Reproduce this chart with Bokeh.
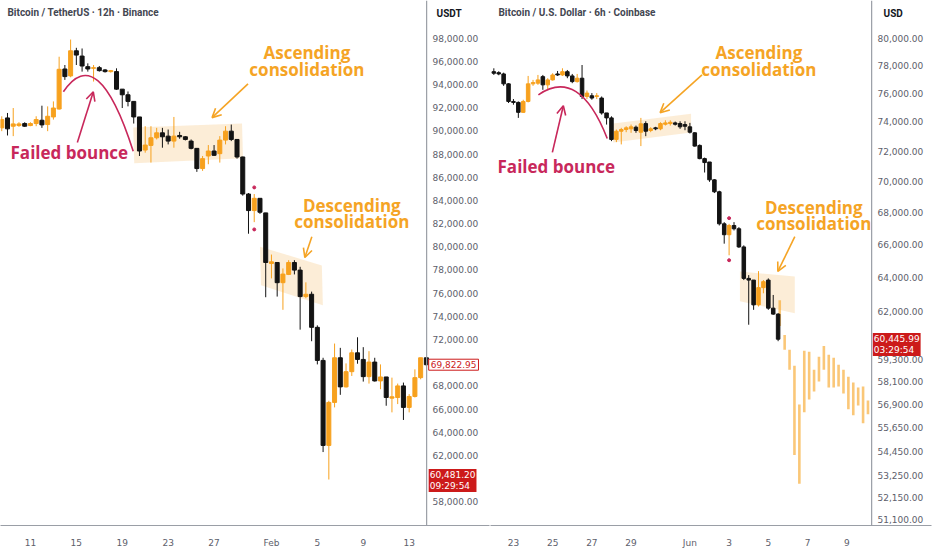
import numpy as np
import pandas as pd
from bokeh.plotting import figure
from bokeh.models import Range1d, FixedTicker, Label, Arrow, OpenHead, NumeralTickFormatter, ColumnDataSource, Span
from bokeh.layouts import row
from bokeh.embed import file_html
from bokeh.resources import INLINE

# ---------------- data: left chart (BTC/USDT, 12h, Binance) ----------------
L_FIRST = "2026-01-08 12:00"
L_ORIGIN = "2026-01-11"
L_OPEN = [90263, 91120, 90406, 90463, 90635, 90463, 90635, 90920, 90549, 91206,
          91891, 95345, 94746, 96915, 96459, 95545, 95402, 95459, 95260, 95117,
          95117, 93604, 93118, 92547, 91206, 88350, 88750, 89407, 89835, 89549,
          89121, 89606, 89493, 89121, 88493, 86752, 87836, 88265, 88036, 89207,
          89978, 89264, 87751, 84553, 83126, 84182, 82926, 78558, 78644, 76902,
          77616, 78644, 77987, 75703, 75903, 73048, 70193, 62855, 66567, 70421,
          67909, 69222, 70849, 70278, 68794, 70050, 68423, 68765, 66938, 66995,
          67994, 66139, 67081, 68708, 70421]
L_HIGH = [91263, 91548, 91976, 90749, 90749, 90749, 91263, 92176, 92119, 92547,
          96402, 95688, 97886, 97172, 97115, 95831, 95688, 95602, 95345, 95260,
          95402, 93604, 93404, 92547, 91206, 90406, 90406, 90263, 90263, 90120,
          91206, 89920, 89549, 89264, 88493, 87836, 88779, 88779, 89549, 90406,
          90549, 89264, 87779, 84639, 84553, 84182, 82926, 79329, 78644, 78130,
          78844, 78844, 78272, 76930, 76131, 73219, 70421, 66710, 71649, 71277,
          69936, 71135, 72191, 71335, 70992, 70421, 69850, 68765, 68708, 68194,
          68280, 67281, 69422, 70421, 70421]
L_LOW = [89978, 89606, 89549, 90349, 90349, 90406, 90406, 90263, 89978, 90977,
         91834, 94403, 94632, 95688, 95117, 95117, 94260, 95117, 95031, 95031,
         93547, 91976, 92119, 90635, 87836, 88122, 87266, 89264, 88550, 88836,
         88550, 89321, 89178, 88408, 86466, 86552, 87123, 87836, 87266, 88836,
         89121, 87608, 84411, 81127, 82127, 82840, 75646, 77273, 75703, 74561,
         77559, 77616, 72848, 75560, 71849, 69850, 62284, 59915, 66139, 67223,
         67852, 68851, 69907, 68366, 68194, 68366, 67709, 66281, 65710, 66424,
         65054, 65710, 66995, 68565, 69700]
L_CLOSE = [90977, 90178, 90606, 90606, 90406, 90635, 90977, 90520, 91263, 91976,
           95317, 94689, 96915, 96544, 95602, 95345, 95459, 95202, 95117, 95202,
           93604, 93118, 92547, 91206, 88265, 88779, 89407, 89835, 89493, 89121,
           89549, 89493, 89264, 88493, 86752, 87608, 88265, 87894, 89207, 89978,
           89264, 87751, 84553, 83126, 84182, 82983, 78644, 78701, 76902, 77644,
           78644, 77987, 75703, 75903, 73048, 70193, 62855, 66567, 70421, 67909,
           69222, 70849, 70278, 68794, 70050, 68423, 68765, 66995, 67052, 67994,
           66139, 67081, 68708, 70421, 69822.95]
L_TICK_DATES = ["2026-01-11", "2026-01-15", "2026-01-19", "2026-01-23", "2026-01-27",
                "2026-02-01", "2026-02-05", "2026-02-09", "2026-02-13"]
L_TICK_LABELS = ["11", "15", "19", "23", "27", "Feb", "5", "9", "13"]
L_PRICE_TICKS = [98000, 96000, 94000, 92000, 90000, 88000, 86000, 84000, 82000, 80000,
                 78000, 76000, 74000, 72000, 68000, 66000, 64000, 62000, 58000]
L_LAST = 69822.95
L_MARK = 60481.20
L_TIMER = "09:29:54"
L_DOT_DATE = "2026-01-30 12:00"
L_DOTS = [85124, 81498]

# ---------------- data: right chart (BTC/USD, 6h, Coinbase) ----------------
R_FIRST = "2026-05-22 00:00"
R_ORIGIN = "2026-05-23"
R_OPEN = [77546, 77475, 77382, 76671, 75426, 75357, 74663, 75426, 76671, 76720,
          77189, 76599, 76954, 77382, 77310, 77546, 77239, 76833, 77075, 75776,
          75825, 75776, 75664, 74622, 74279, 72803, 73364, 73479, 73527, 73636,
          73296, 73888, 73411, 73594, 73527, 73840, 73888, 73935, 73888, 73819,
          73663, 73255, 72400, 71516, 71291, 70115, 69341, 67302, 66622, 67197,
          66992, 65869, 63967, 63867, 62408, 63419, 63867, 62218, 61874]
R_HIGH = [77791, 77575, 77475, 76720, 75594, 75426, 75545, 77239, 76954, 77310,
          77310, 77075, 77432, 77597, 77791, 77669, 77382, 77382, 78029, 76197,
          76014, 76014, 75776, 74622, 74388, 73479, 73594, 73703, 73819, 73751,
          74279, 74045, 73636, 73663, 73977, 74114, 74114, 74025, 74045, 74045,
          73935, 73296, 72467, 71583, 71291, 70160, 69406, 67408, 67302, 67408,
          67095, 65967, 64162, 63867, 64400, 63867, 63967, 62988, 61931]
R_LOW = [77310, 77289, 76529, 75315, 75197, 74279, 74622, 75357, 76529, 76599,
         76246, 76246, 76905, 77239, 77239, 77075, 76720, 76762, 75594, 75594,
         75545, 75594, 74505, 73819, 72689, 72621, 72467, 73296, 73255, 73255,
         72354, 73025, 73296, 73432, 73432, 73751, 73751, 73751, 73527, 73432,
         73208, 72313, 71470, 70596, 69986, 69258, 67197, 66070, 65359, 66887,
         65808, 63867, 61266, 62121, 62316, 63087, 62121, 61834, 60333]
R_CLOSE = [77432, 77382, 76671, 75426, 75357, 74663, 75426, 76671, 76762, 76954,
           76599, 76954, 77310, 77310, 77546, 77239, 76833, 77075, 75776, 76014,
           75664, 75825, 74622, 74279, 72803, 73364, 73479, 73594, 73663, 73411,
           73868, 73364, 73527, 73527, 73888, 73935, 73977, 73840, 73663, 73703,
           73296, 72354, 71516, 71252, 70115, 69341, 67302, 66622, 67197, 66992,
           65869, 63967, 63867, 62408, 63419, 63772, 62218, 61874, 60445.99]
R_GHOST_FIRST = "2026-06-05 14:00"
R_GHOST_HIGH = [62679, 60683, 59848, 58969, 56884, 59793, 59738, 58752, 59462, 60069,
                59573, 59407, 59024, 58752, 58375, 58053, 57786, 57839, 57095]
R_GHOST_LOW = [61190, 59848, 58752, 54265, 52830, 56465, 57148, 57572, 58106, 58752,
               57786, 57786, 57839, 57466, 56622, 56309, 56832, 55894, 56361]
R_TICK_DATES = ["2026-05-23", "2026-05-25", "2026-05-27", "2026-05-29", "2026-06-01",
                "2026-06-03", "2026-06-05", "2026-06-07", "2026-06-09"]
R_TICK_LABELS = ["23", "25", "27", "29", "Jun", "3", "5", "7", "9"]
R_PRICE_TICKS = [80000, 78000, 76000, 74000, 72000, 70000, 68000, 66000, 64000, 62000,
                 59300, 58100, 56900, 55650, 54450, 53250, 52150, 51100]
R_MARK = 60445.99
R_TIMER = "03:29:54"
R_DOT_DATE = "2026-06-03"
R_DOTS = [67658, 65058]

# ---------------- style ----------------
ORANGE = "#F7A11E"
BLACK = "#131313"
TXT_ORANGE = "#F5A425"
CRIMSON = "#C8285B"
BOX = "#F8D7A6"
RED = "#CC1A1A"
AXIS = "#9a9ea6"
LBL = "#5d606b"
ANN_FONT = "Open Sans"
NUM_FONT = "DejaVu Sans"


def days(ts, origin):
    return ((pd.DatetimeIndex(ts) - pd.Timestamp(origin)) / pd.Timedelta(days=1)).to_numpy()


def draw_candles(p, x, o, h, l, c, width):
    o, h, l, c = map(np.asarray, (o, h, l, c))
    col = np.where(c >= o, ORANGE, BLACK)
    src = ColumnDataSource(dict(x=x, h=h, l=l, top=np.maximum(o, c), bot=np.minimum(o, c), col=col))
    p.segment(x0="x", y0="h", x1="x", y1="l", line_color="col", line_width=1, source=src)
    p.vbar(x="x", width=width, top="top", bottom="bot", fill_color="col", line_color="col",
           line_width=1, source=src)


def style_axes(p, xticks, xlabels, yticks, standoff, price_edge):
    p.grid.visible = False
    p.outline_line_color = None
    p.background_fill_color = "white"
    p.border_fill_color = "white"
    xa, ya = p.xaxis[0], p.yaxis[0]
    for ax in (xa, ya):
        ax.axis_line_color = AXIS
        ax.axis_line_width = 1.2
        ax.major_tick_line_color = None
        ax.minor_tick_line_color = None
        ax.major_label_text_font = NUM_FONT
        ax.major_label_text_font_size = "9px"
        ax.major_label_text_color = LBL
    ya.axis_line_color = None
    xa.ticker = FixedTicker(ticks=list(xticks), minor_ticks=[])
    xa.major_label_overrides = {int(t): s for t, s in zip(xticks, xlabels)}
    xa.major_label_standoff = 6
    ya.ticker = FixedTicker(ticks=yticks, minor_ticks=[])
    ya.formatter = NumeralTickFormatter(format="0,0.00")
    ya.major_label_standoff = standoff
    # price-scale separator line
    p.add_layout(Span(location=price_edge, dimension="height", line_color=AXIS, line_width=1.2))


def text(p, x, y, s, color, size, bold=True, align="center", baseline="middle", font=ANN_FONT, **kw):
    p.add_layout(Label(x=x, y=y, text=s, text_color=color, text_font=font,
                       text_font_size=size, text_font_style="bold" if bold else "normal",
                       text_align=align, text_baseline=baseline, **kw))


def arrow(p, x0, y0, x1, y1, color):
    p.add_layout(Arrow(end=OpenHead(size=9, line_color=color, line_width=1.6),
                       x_start=x0, y_start=y0, x_end=x1, y_end=y1,
                       line_color=color, line_width=1.6))


# ---------------- left figure ----------------
lx = days(pd.date_range(L_FIRST, periods=len(L_OPEN), freq="12h"), L_ORIGIN)
lticks = days(L_TICK_DATES, L_ORIGIN).round().astype(int)
p1 = figure(width=490, height=550, x_range=Range1d(-2.609, 40.0), y_range=Range1d(55946, 101255),
            y_axis_location="right", output_backend="svg", toolbar_location=None,
            min_border=0, min_border_right=1, min_border_bottom=21)
style_axes(p1, lticks, L_TICK_LABELS, L_PRICE_TICKS, -63, 34.522)

p1.patch(x=[8.957, 18.435, 18.522, 9.043], y=[90292, 90634, 87636, 87208],
         fill_color=BOX, fill_alpha=0.45, line_color=None)
p1.patch(x=[20.0, 25.39, 25.48, 20.09], y=[80013, 78386, 74960, 76673],
         fill_color=BOX, fill_alpha=0.45, line_color=None)
draw_candles(p1, lx, L_OPEN, L_HIGH, L_LOW, L_CLOSE, 0.35)
ldot = days([L_DOT_DATE], L_ORIGIN)[0]
p1.scatter(x=[ldot, ldot], y=L_DOTS, size=3, color=CRIMSON)
p1.quadratic(x0=[2.870], y0=[93375], cx=[5.870], cy=[97829], x1=[8.957], y1=[88236],
             line_color=CRIMSON, line_width=1.6)
arrow(p1, 4.087, 89007, 5.478, 93375, CRIMSON)
text(p1, 3.39, 88108, "Failed bounce", CRIMSON, "17px")
arrow(p1, 18.957, 94060, 15.826, 91148, TXT_ORANGE)
text(p1, 24.09, 96801, "Ascending", TXT_ORANGE, "17px")
text(p1, 24.09, 95259, "consolidation", TXT_ORANGE, "17px")
arrow(p1, 24.52, 80870, 23.91, 79071, TXT_ORANGE)
text(p1, 28.0, 83525, "Descending", TXT_ORANGE, "17px")
text(p1, 28.0, 82155, "consolidation", TXT_ORANGE, "17px")
text(p1, -2.0, 100227, "Bitcoin / TetherUS · 12h · Binance", "#434651", "10px", align="left", font="Roboto")
text(p1, 35.39, 100141, "USDT", "#131722", "10px", align="left", font="Roboto")
text(p1, 34.70, L_LAST, f"{L_LAST:,.2f}", RED, "9px", bold=False, align="left", font=NUM_FONT,
     background_fill_color="white", border_line_color=RED, border_line_width=1, padding=2)
text(p1, 34.70, 60828, f"{L_MARK:,.2f}\n{L_TIMER}", "white", "9px", bold=False, align="left",
     baseline="top", font=NUM_FONT, background_fill_color=RED, padding=1, text_line_height=1.1)

# ---------------- right figure ----------------
rx = days(pd.date_range(R_FIRST, periods=len(R_OPEN), freq="6h"), R_ORIGIN)
gx = days(pd.date_range(R_GHOST_FIRST, periods=len(R_GHOST_HIGH), freq="6h"), R_ORIGIN)
rticks = days(R_TICK_DATES, R_ORIGIN).round().astype(int)
p2 = figure(width=442, height=550, x_range=Range1d(-1.170, 21.323), y_range=Range1d(50818, 82860),
            y_axis_type="log", y_axis_location="right", output_backend="svg", toolbar_location=None,
            min_border=0, min_border_right=1, min_border_bottom=21)
style_axes(p2, rticks, R_TICK_LABELS, R_PRICE_TICKS, -60, 18.270)

p2.patch(x=[5.089, 9.059, 9.059, 5.089], y=[73888, 74573, 73276, 72601],
         fill_color=BOX, fill_alpha=0.45, line_color=None)
p2.patch(x=[11.552, 14.351, 14.351, 11.552], y=[64382, 64085, 61931, 62621],
         fill_color=BOX, fill_alpha=0.45, line_color=None)
p2.segment(x0=gx, y0=R_GHOST_HIGH, x1=gx, y1=R_GHOST_LOW, line_color=ORANGE, line_alpha=0.6, line_width=2.6)
draw_candles(p2, rx, R_OPEN, R_HIGH, R_LOW, R_CLOSE, 0.18)
rdot = days([R_DOT_DATE], R_ORIGIN)[0]
p2.scatter(x=[rdot, rdot], y=R_DOTS, size=3, color=CRIMSON)
p2.quadratic(x0=[1.272], y0=[75895], cx=[3.349], cy=[77913], x1=[4.784], y1=[72871],
             line_color=CRIMSON, line_width=1.6)
arrow(p2, 1.985, 71933, 2.545, 75127, CRIMSON)
text(p2, 2.188, 70976, "Failed bounce", CRIMSON, "17px")
arrow(p2, 9.618, 77310, 7.481, 74643, TXT_ORANGE)
text(p2, 12.519, 78971, "Ascending", TXT_ORANGE, "17px")
text(p2, 12.519, 77705, "consolidation", TXT_ORANGE, "17px")
arrow(p2, 14.351, 66499, 13.486, 64382, TXT_ORANGE)
text(p2, 15.318, 68305, "Descending", TXT_ORANGE, "17px")
text(p2, 15.318, 67300, "consolidation", TXT_ORANGE, "17px")
text(p2, -0.763, 81946, "Bitcoin / U.S. Dollar · 6h · Coinbase", "#434651", "10px", align="left", font="Roboto")
text(p2, 18.88, 81870, "USD", "#131722", "10px", align="left", font="Roboto")
text(p2, 18.33, 60801, f"{R_MARK:,.2f}\n{R_TIMER}", "white", "9px", bold=False, align="left",
     baseline="top", font=NUM_FONT, background_fill_color=RED, padding=1, text_line_height=1.1)

layout = row(p1, p2)
open("out.html", "w").write(file_html(layout, INLINE))
